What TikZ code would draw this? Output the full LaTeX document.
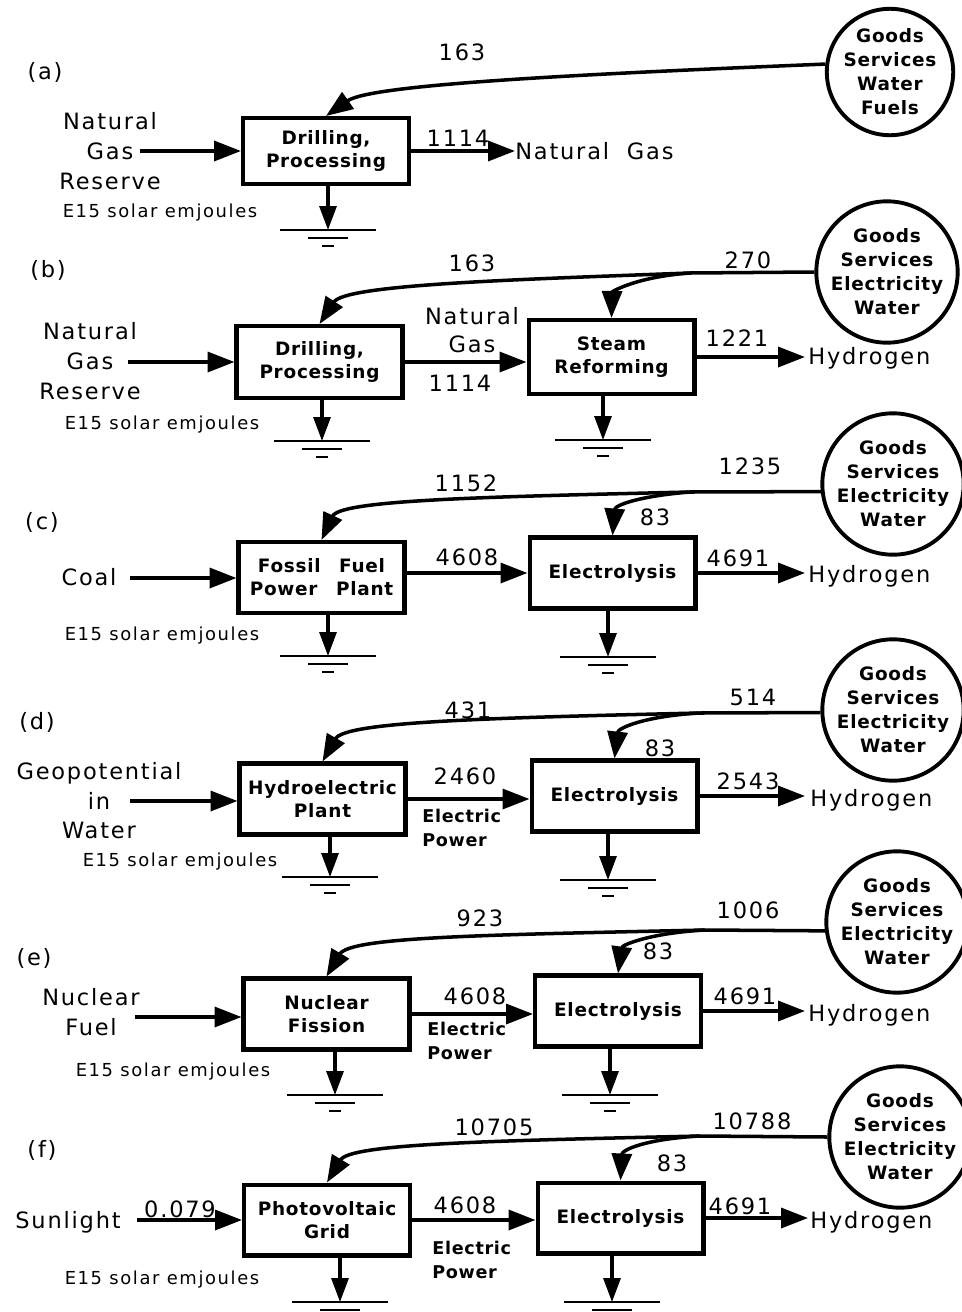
\documentclass[tikz,border=0pt]{standalone}
\usepackage{fontspec}
\usetikzlibrary{arrows.meta}
\newfontfamily\lab[LetterSpace=8]{DejaVu Sans}
\newfontfamily\boxf[LetterSpace=4]{DejaVu Sans Bold}
\newfontfamily\notef[LetterSpace=9]{DejaVu Sans}
\tikzset{
  flow/.style={line width=2pt,-{Triangle[length=0.54cm,width=0.4cm]}},
  drain/.style={line width=1.8pt,-{Triangle[length=0.48cm,width=0.34cm]}},
  proc/.style={draw,line width=2.3pt,minimum width=3.32cm,minimum height=1.42cm,align=center,
    font={\boxf\fontsize{10.5}{13}\selectfont}},
  store/.style={circle,draw,line width=2.2pt,minimum size=2.5cm,inner sep=0pt,align=center,
    font={\boxf\fontsize{10.5}{13.7}\selectfont}},
  lbl/.style={inner sep=0pt,font={\lab\fontsize{12.8}{17}\selectfont}},
  note/.style={inner sep=0pt,font={\notef\fontsize{10.2}{11}\selectfont}},
  pwr/.style={inner sep=0pt,align=left,font={\boxf\fontsize{10}{13.7}\selectfont}},
  earth/.pic={\draw[line width=1.4pt] (-48,0) -- (48,0) (-20,8) -- (20,8) (-6,16) -- (6,16);}
}
\begin{document}
\begin{tikzpicture}[x=0.02cm,y=-0.02cm]
\useasboundingbox (0,0) rectangle (962,1312);
% (a)
\node[lbl] (tagA) at (45,72) {(a)};
\node[lbl,align=center] (srcA) at (110,151) {Natural\\Gas\\Reserve};
\coordinate (inA) at (140,151);
\node[proc,minimum height=1.32cm] (drillA) at (326,151) {Drilling,\\Processing};
\node[note] (unitA) at (160,213) {E15 solar emjoules};
\node[store,minimum size=2.4cm] (gsA) at (890,72) {Goods\\Services\\Water\\Fuels};
\coordinate (outA) at (515,151);
\node[lbl,anchor=west] (gasA) at (outA) {Natural\ \ Gas};
\coordinate (sinkA) at (328,230);
\draw[flow] (inA) -- (inA -| drillA.west);
\draw[flow] (drillA) -- (outA);
\draw[drain] (drillA.south -| sinkA) -- (sinkA);
\pic at (sinkA) {earth};
\draw[flow] (gsA.173) .. controls (560,75) and (370,85) .. (drillA.north);
\node[lbl] (fbA) at (462,52) {163};
\node[lbl] (qA) at (458,138) {1114};
% (b)
\node[lbl] (tagB) at (48,270) {(b)};
\node[lbl,align=center] (srcB) at (90,361) {Natural\\Gas\\Reserve};
\coordinate (inB) at (128,362);
\node[proc,minimum height=1.44cm] (drillB) at (319.5,362) {Drilling,\\Processing};
\node[proc,minimum height=1.48cm] (steamB) at (611.5,357) {Steam\\Reforming};
\node[note] (unitB) at (162,425) {E15 solar emjoules};
\node[store] (gsB) at (887,272) {Goods\\Services\\Electricity\\Water};
\coordinate (outB) at (805,357);
\node[lbl,anchor=west] (h2B) at (808,358) {Hydrogen};
\coordinate (sinkB1) at (322,441);
\coordinate (sinkB2) at (603,440);
\draw[flow] (inB) -- (inB -| drillB.west);
\draw[flow] (drillB) -- (drillB -| steamB.west);
\draw[flow] (steamB) -- (outB);
\draw[drain] (drillB.south -| sinkB1) -- (sinkB1);
\draw[drain] (steamB.south -| sinkB2) -- (sinkB2);
\pic at (sinkB1) {earth};
\pic at (sinkB2) {earth};
\coordinate (jB) at (690,273);
\draw[flow] (gsB.west) -- (jB) .. controls (500,280) and (345,285) .. (drillB.north);
\draw[flow] (jB) .. controls (635,277) and (612,292) .. (steamB.north);
\node[lbl,align=center,font={\lab\fontsize{12.8}{16}\selectfont}] (ngB) at (472,330) {Natural\\Gas};
\node[lbl] (qB) at (460,383) {1114};
\node[lbl] (fbB) at (472,263) {163};
\node[lbl] (totB) at (748,260) {270};
\node[lbl] (hB) at (737,338) {1221};
% (c)
\node[lbl] (tagC) at (42,522) {(c)};
\node[lbl] (srcC) at (89,577) {Coal};
\coordinate (inC) at (130,578);
\node[proc] (plantC) at (321.5,577.5) {Fossil\quad Fuel\\Power\quad Plant};
\node[proc] (elecC) at (612.5,573) {Electrolysis};
\node[note] (unitC) at (162,636) {E15 solar emjoules};
\node[store] (gsC) at (893,484) {Goods\\Services\\Electricity\\Water};
\coordinate (outC) at (805,573);
\node[lbl,anchor=west] (h2C) at (808,576) {Hydrogen};
\coordinate (sinkC1) at (328,656);
\coordinate (sinkC2) at (608,657);
\draw[flow] (inC) -- (inC -| plantC.west);
\draw[flow] (elecC.west -| plantC.east) -- (elecC.west);
\draw[flow] (elecC) -- (outC);
\draw[drain] (plantC.south -| sinkC1) -- (sinkC1);
\draw[drain] (elecC.south -| sinkC2) -- (sinkC2);
\pic at (sinkC1) {earth};
\pic at (sinkC2) {earth};
\coordinate (jC) at (690,492);
\draw[flow] (gsC.186) -- (jC) .. controls (480,497) and (340,500) .. (plantC.north);
\draw[flow] (jC) .. controls (640,496) and (615,505) .. (elecC.north);
\node[lbl] (totC) at (750,466) {1235};
\node[lbl] (fbC) at (466,483) {1152};
\node[lbl] (eC) at (655,517) {83};
\node[lbl] (pC) at (467,557) {4608};
\node[lbl] (hC) at (738,558) {4691};
% (d)
\node[lbl] (tagD) at (37,722) {(d)};
\node[lbl,align=center,font={\lab\fontsize{12.8}{16.8}\selectfont}] (srcD) at (99,801) {Geopotential\\in\\Water};
\coordinate (inD) at (130,801);
\node[proc] (hydroD) at (322.5,799) {Hydroelectric\\Plant};
\node[proc] (elecD) at (614.5,796) {Electrolysis};
\node[note] (unitD) at (180,862) {E15 solar emjoules};
\node[store] (gsD) at (893,710) {Goods\\Services\\Electricity\\Water};
\coordinate (outD) at (805,796);
\node[lbl,anchor=west] (h2D) at (810,800) {Hydrogen};
\coordinate (sinkD1) at (330,877);
\coordinate (sinkD2) at (608,880);
\draw[flow] (inD) -- (inD -| hydroD.west);
\draw[flow] (hydroD) -- (hydroD -| elecD.west);
\draw[flow] (elecD) -- (outD);
\draw[drain] (hydroD.south -| sinkD1) -- (sinkD1);
\draw[drain] (elecD.south -| sinkD2) -- (sinkD2);
\pic at (sinkD1) {earth};
\pic at (sinkD2) {earth};
\coordinate (jD) at (700,713);
\draw[flow] (gsD.182) -- (jD) .. controls (480,718) and (345,722) .. (hydroD.north);
\draw[flow] (jD) .. controls (645,716) and (618,728) .. (elecD.north);
\node[lbl] (pD) at (465,776) {2460};
\node[pwr,anchor=west] (epD) at (422,828) {Electric\\Power};
\node[lbl] (hD) at (748,781) {2543};
\node[lbl] (totD) at (753,697) {514};
\node[lbl] (fbD) at (468,710) {431};
\node[lbl] (eD) at (660,748) {83};
% (e)
\node[lbl] (tagE) at (34,958) {(e)};
\node[lbl,align=center] (srcE) at (91,1012) {Nuclear\\Fuel};
\coordinate (inE) at (135,1017);
\node[proc] (fissE) at (326.5,1014) {Nuclear\\Fission};
\node[proc] (elecE) at (618,1011) {Electrolysis};
\node[note] (unitE) at (173,1072) {E15 solar emjoules};
\node[store] (gsE) at (897,922) {Goods\\Services\\Electricity\\Water};
\coordinate (outE) at (805,1011);
\node[lbl,anchor=west] (h2E) at (808,1015) {Hydrogen};
\coordinate (sinkE1) at (335,1095);
\coordinate (sinkE2) at (610,1095);
\draw[flow] (inE) -- (inE -| fissE.west);
\draw[flow] (fissE) -- (fissE -| elecE.west);
\draw[flow] (elecE) -- (outE);
\draw[drain] (fissE.south -| sinkE1) -- (sinkE1);
\draw[drain] (elecE.south -| sinkE2) -- (sinkE2);
\pic at (sinkE1) {earth};
\pic at (sinkE2) {earth};
\coordinate (jE) at (705,930);
\draw[flow] (gsE.187) -- (jE) .. controls (480,935) and (350,937) .. (fissE.north);
\draw[flow] (jE) .. controls (650,933) and (622,945) .. (elecE.north);
\node[lbl] (pE) at (475,996) {4608};
\node[pwr,anchor=west] (epE) at (427,1041) {Electric\\Power};
\node[lbl] (hE) at (745,996) {4691};
\node[lbl] (totE) at (748,910) {1006};
\node[lbl] (fbE) at (480,918) {923};
\node[lbl] (eE) at (658,951) {83};
% (f)
\node[lbl] (tagF) at (42,1150) {(f)};
\node[lbl] (srcF) at (68,1222) {Sunlight};
\coordinate (inF) at (137,1220);
\node[proc] (pvF) at (327,1220) {Photovoltaic\\Grid};
\node[proc] (elecF) at (620.5,1218) {Electrolysis};
\node[note] (unitF) at (162,1280) {E15 solar emjoules};
\node[store] (gsF) at (900,1137) {Goods\\Services\\Electricity\\Water};
\coordinate (outF) at (808,1218);
\node[lbl,anchor=west] (h2F) at (810,1222) {Hydrogen};
\coordinate (sinkF1) at (340,1302);
\coordinate (sinkF2) at (612,1302);
\draw[flow] (inF) -- (inF -| pvF.west);
\draw[flow] (pvF) -- (pvF -| elecF.west);
\draw[flow] (elecF) -- (outF);
\draw[drain] (pvF.south -| sinkF1) -- (sinkF1);
\draw[drain] (elecF.south -| sinkF2) -- (sinkF2);
\pic at (sinkF1) {earth};
\pic at (sinkF2) {earth};
\coordinate (jF) at (700,1136);
\draw[flow] (gsF.west) -- (jF) .. controls (480,1141) and (350,1144) .. (pvF.north);
\draw[flow] (jF) .. controls (645,1139) and (622,1150) .. (elecF.north);
\node[lbl] (sF) at (180,1209) {0.079};
\node[lbl] (pF) at (465,1205) {4608};
\node[pwr,anchor=west] (epF) at (432,1260) {Electric\\Power};
\node[lbl] (hF) at (740,1206) {4691};
\node[lbl] (totF) at (752,1121) {10788};
\node[lbl] (fbF) at (494,1127) {10705};
\node[lbl] (eF) at (672,1163) {83};
\end{tikzpicture}
\end{document}
